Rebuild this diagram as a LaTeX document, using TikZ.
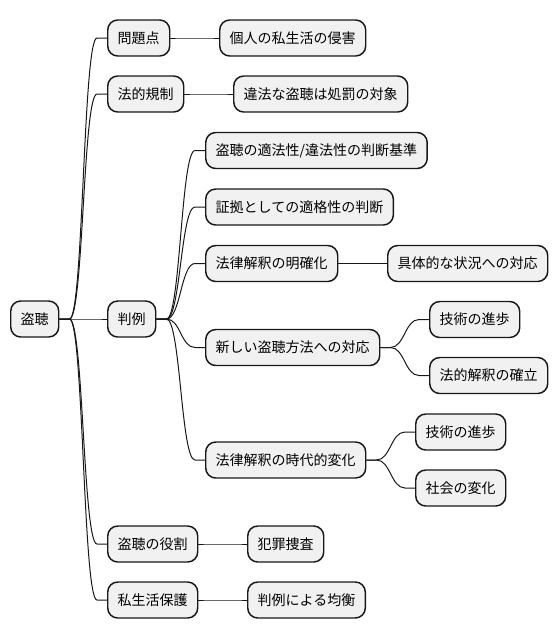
\documentclass[tikz,border=0pt]{standalone}
\usepackage{fontspec}
\setmainfont{Noto Sans CJK JP}
\definecolor{boxfill}{HTML}{F1F1F1}
\definecolor{boxline}{HTML}{181818}
\tikzset{
  topic/.style={draw=boxline, line width=1.1pt, fill=boxfill, rounded corners=7.5pt,
    anchor=west, inner xsep=7.5pt, inner ysep=0pt, minimum height=27pt,
    font=\fontsize{10.5pt}{12pt}\selectfont},
  branch/.style={draw=boxline, line width=0.75pt,
    to path={(\tikztostart) -- ++(10,0) .. controls +(14,0) and +(-14,0) .. ([xshift=-7.5pt]\tikztotarget) -- (\tikztotarget)}}
}
\begin{document}
\begin{tikzpicture}[x=0.75pt,y=-0.75pt]
\useasboundingbox (0,0) rectangle (558,640);

\node[topic] (tocho) at (10,319) {盗聴};

\node[topic] (mondai) at (107,38) {問題点};
\node[topic] (shingai) at (219,38) {個人の私生活の侵害};

\node[topic] (kisei) at (107,94) {法的規制};
\node[topic] (taisho) at (233,94) {違法な盗聴は処罰の対象};

\node[topic] (hanrei) at (107,319) {判例};
\node[topic] (kijun) at (205,150.5) {盗聴の適法性/違法性の判断基準};
\node[topic] (tekikaku) at (205,207) {証拠としての適格性の判断};
\node[topic] (meikaku) at (205,263.5) {法律解釈の明確化};
\node[topic] (taio) at (387,263.5) {具体的な状況への対応};
\node[topic] (hoho) at (205,347.5) {新しい盗聴方法への対応};
\node[topic] (gijutsuA) at (429,319.5) {技術の進歩};
\node[topic] (kakuritsu) at (429,375.5) {法的解釈の確立};
\node[topic] (henka) at (205,460) {法律解釈の時代的変化};
\node[topic] (gijutsuB) at (415,432) {技術の進歩};
\node[topic] (shakai) at (415,488) {社会の変化};

\node[topic] (yakuwari) at (107,544) {盗聴の役割};
\node[topic] (sosa) at (247,544) {犯罪捜査};

\node[topic] (hogo) at (107,600) {私生活保護};
\node[topic] (kinko) at (247,600) {判例による均衡};

% branches
\foreach \a/\b in {tocho/mondai, tocho/kisei, tocho/hanrei, tocho/yakuwari, tocho/hogo,
  mondai/shingai, kisei/taisho, yakuwari/sosa, hogo/kinko,
  hanrei/kijun, hanrei/tekikaku, hanrei/meikaku, hanrei/hoho, hanrei/henka,
  meikaku/taio, hoho/gijutsuA, hoho/kakuritsu, henka/gijutsuB, henka/shakai}
  \draw[branch] (\a.east) to (\b.west);
\end{tikzpicture}
\end{document}
